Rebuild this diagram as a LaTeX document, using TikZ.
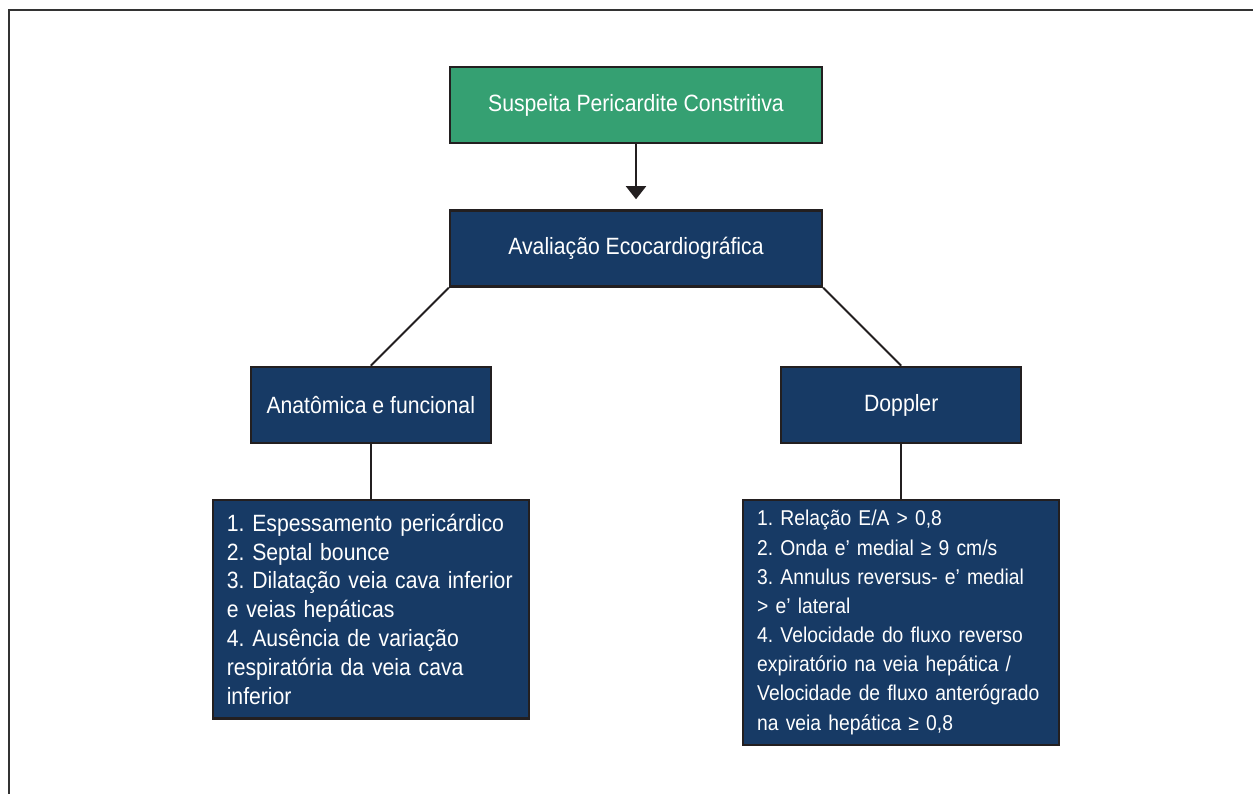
\documentclass[tikz,border=0pt]{standalone}
\usepackage{fontspec}
\setmainfont{Liberation Sans}[FakeStretch=0.9]
\usepackage{tikz}
\usetikzlibrary{positioning}
\usetikzlibrary{arrows.meta}
\frenchspacing
\hyphenpenalty=10000
\exhyphenpenalty=10000
\definecolor{leaf}{RGB}{53,160,114}
\definecolor{navy}{RGB}{23,58,101}
\definecolor{boxline}{RGB}{35,31,32}
\tikzstyle{block} = [draw=boxline, fill=navy, text=white, rectangle, line width=1.4pt, minimum height=1.52cm, minimum width=7.44cm, font=\fontsize{13.4}{16.4}\selectfont]
\tikzstyle{suspect} = [block, fill=leaf]
\tikzstyle{branch} = [block, minimum width=4.8cm]
\tikzstyle{findings} = [block, minimum width=0cm, minimum height=0cm, text width=5.76cm, inner xsep=0.28cm, inner ysep=8pt, align=left]
\tikzstyle{criteria} = [findings, inner ysep=6pt, font=\fontsize{12.2}{16.6}\selectfont]
\tikzstyle{link} = [draw=boxline, line width=1.1pt]

\begin{document}
\begin{tikzpicture}[auto,node distance=1.3cm]
    \useasboundingbox (0,0) rectangle (25.06,-15.88);
    % frame
    \draw [gray!40!black, line width=0.8pt] (0.18,-15.88) -- (0.18,-0.2) -- (25.06,-0.2);

    \node [suspect] at (12.72,-2.1) (suspeita) {Suspeita Pericardite Constritiva};
    \node [block, below=of suspeita] (avaliacao) {Avaliação Ecocardiográfica};
    \node [branch, below=1.56cm of avaliacao.south west, xshift=-1.56cm] (anatomica) {Anatômica e funcional};
    \node [branch, below=1.56cm of avaliacao.south east, xshift=1.56cm] (doppler) {Doppler};
    \node [findings, below=1.09cm of anatomica] (achados) {1. Espessamento pericárdico\\
        2. Septal bounce\\
        3. Dilatação veia cava inferior\\
        e veias hepáticas\\
        4. Ausência de variação\\
        respiratória da veia cava\\
        inferior};
    \node [criteria, below=1.09cm of doppler] (criterios) {1. Relação E/A > 0,8\\
        2. Onda e' medial ≥ 9 cm/s\\
        3. Annulus reversus- e' medial\\
        > e' lateral\\
        4. Velocidade do fluxo reverso\\
        expiratório na veia hepática /\\
        Velocidade de fluxo anterógrado\\
        na veia hepática ≥ 0,8};

    \draw [link, -{Triangle[width=0.4cm,length=0.26cm]}, shorten >=0.2cm] (suspeita) -- (avaliacao);
    \draw [link] (avaliacao.south west) -- (anatomica.north);
    \draw [link] (avaliacao.south east) -- (doppler.north);
    \draw [link] (anatomica) -- (achados);
    \draw [link] (doppler) -- (criterios);
\end{tikzpicture}
\end{document}
